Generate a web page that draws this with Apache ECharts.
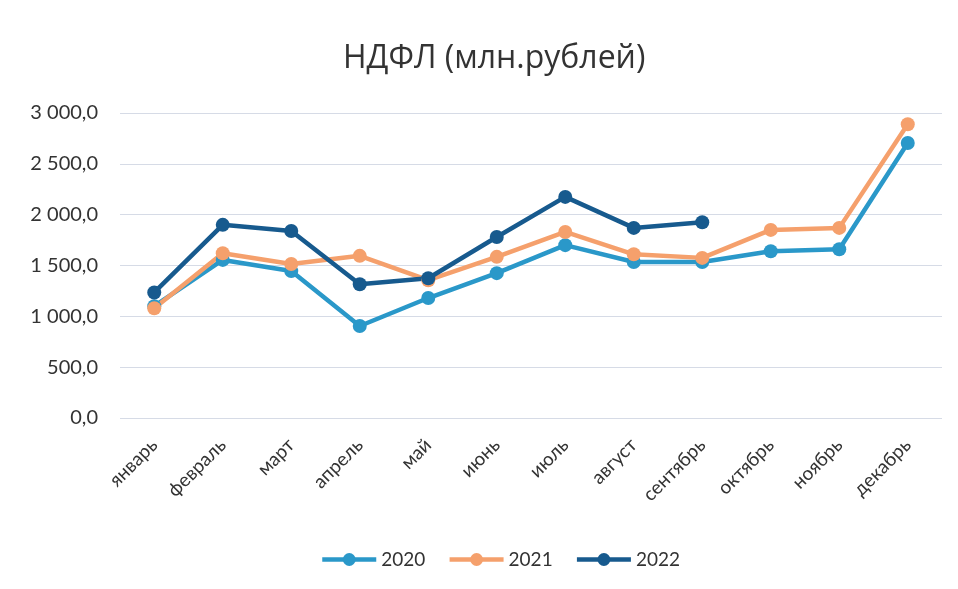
<!DOCTYPE html>
<html>
<head>
<meta charset="utf-8">
<script src="https://cdn.jsdelivr.net/npm/echarts@6/dist/echarts.min.js"></script>
<style>
  html, body { margin: 0; padding: 0; background: #fff; }
  #chart { width: 958px; height: 589px; }
</style>
</head>
<body>
<div id="chart"></div>
<script>
var months = ['январь', 'февраль', 'март', 'апрель', 'май', 'июнь', 'июль', 'август', 'сентябрь', 'октябрь', 'ноябрь', 'декабрь']
var y2020 = [1100, 1555, 1445, 905, 1180, 1425, 1700, 1535, 1535, 1640, 1660, 2705]
var y2021 = [1080, 1620, 1515, 1595, 1355, 1585, 1830, 1610, 1575, 1850, 1870, 2890]
var y2022 = [1235, 1900, 1840, 1315, 1375, 1780, 2175, 1870, 1925, null, null, null]
var colors = { '2020': '#2a98c9', '2021': '#f5a06c', '2022': '#175a8e' }

var chart = echarts.init(document.getElementById('chart'))

function makeSeries(name, data) {
  return {
    name: name,
    type: 'line',
    data: data,
    symbol: 'circle',
    symbolSize: 14,
    lineStyle: { width: 4.5, color: colors[name] },
    itemStyle: { color: colors[name] },
    connectNulls: false
  }
}

chart.setOption({
  backgroundColor: '#ffffff',
  textStyle: { fontFamily: 'Lato, "Open Sans", sans-serif' },
  title: {
    text: 'НДФЛ (млн.рублей)',
    left: 338,
    top: 38,
    textStyle: { fontSize: 32, fontWeight: 'normal', color: '#333', fontFamily: '"Open Sans", sans-serif' }
  },
  grid: { left: 120, right: 16, top: 113, bottom: 171, containLabel: false },
  legend: {
    top: 545,
    left: 315,
    itemWidth: 54,
    itemHeight: 16,
    itemGap: 22,
    lineStyle: { width: 4.5 },
    textStyle: { fontSize: 19, color: '#333' },
    data: ['2020', '2021', '2022']
  },
  xAxis: {
    type: 'category',
    data: months,
    boundaryGap: true,
    axisLine: { show: false },
    axisTick: { show: false },
    axisLabel: { rotate: 45, fontSize: 19, color: '#333', margin: 24, interval: 0 }
  },
  yAxis: {
    type: 'value',
    min: 0,
    max: 3000,
    interval: 500,
    axisLine: { show: false },
    axisTick: { show: false },
    splitLine: { lineStyle: { color: '#d6dbe6', width: 1 } },
    axisLabel: {
      fontSize: 20,
      color: '#333',
      margin: 22,
      formatter: function (v) {
        var s = v.toFixed(1).replace('.', ',')
        var parts = s.split(',')
        parts[0] = parts[0].replace(/\B(?=(\d{3})+(?!\d))/g, ' ')
        return parts.join(',')
      }
    }
  },
  series: [
    makeSeries('2020', y2020),
    makeSeries('2021', y2021),
    makeSeries('2022', y2022)
  ]
})
</script>
</body>
</html>
